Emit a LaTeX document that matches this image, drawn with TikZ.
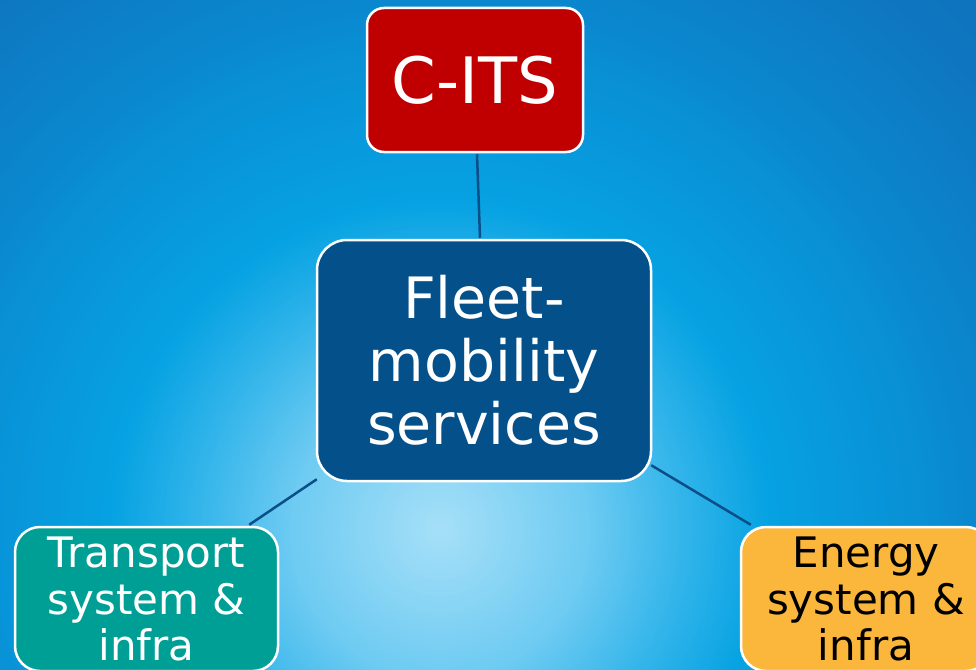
\documentclass[tikz,border=0pt]{standalone}
\usepackage{fontspec}
\setmainfont{DejaVu Sans}
\definecolor{sA}{HTML}{A6E0F8}
\definecolor{sB}{HTML}{94D9F6}
\definecolor{sC}{HTML}{6ECBF2}
\definecolor{sD}{HTML}{30B4EA}
\definecolor{sE}{HTML}{06A2E2}
\definecolor{sF}{HTML}{0990D5}
\definecolor{sG}{HTML}{0A88CF}
\definecolor{sH}{HTML}{0E76C0}
\definecolor{sI}{HTML}{0E6CB8}
\definecolor{citsred}{HTML}{C00000}
\definecolor{fleetblue}{HTML}{04508A}
\definecolor{teal}{HTML}{009F96}
\definecolor{orangebox}{HTML}{FBB73C}
\definecolor{connblue}{HTML}{0B4E88}
\tikzset{
  box/.style={draw=white, line width=2.5pt, align=center, inner sep=0pt},
  conn/.style={draw=connblue, line width=2.5pt},
}
\begin{document}
\begin{tikzpicture}[x=1pt,y=-1pt]
\useasboundingbox (0,0) rectangle (976,669);
\begin{scope}
\clip (0,0) rectangle (976,669);
\foreach \ro/\ri/\co/\ci in {900/700/sI/sH, 700/530/sH/sG, 530/480/sG/sF, 480/330/sF/sE,
    330/250/sE/sD, 250/150/sD/sC, 150/50/sC/sB, 50/0/sB/sA} {
  \pgfmathtruncatemacro\rb{\ro-3}
  \foreach \r in {\ro,\rb,...,\ri} {
    \pgfmathtruncatemacro\p{(\ro-\r)/(\ro-\ri)*100}
    \fill[fill={\ci!\p!\co}] (440,530) circle (\r);
  }
}
\end{scope}
\node[box, fill=citsred, text=white, rounded corners=17pt, minimum width=216pt, minimum height=144pt,
  font=\fontsize{64}{70}\selectfont] (cits) at (475,80) {C-ITS};
\node[box, fill=fleetblue, text=white, rounded corners=30pt, minimum width=334pt, minimum height=241pt,
  font=\fontsize{57}{63}\selectfont] (fleet) at (484,360.5) {Fleet-\\mobility\\services};
\node[box, fill=teal, text=white, rounded corners=25pt, minimum width=263pt, minimum height=144pt,
  font=\fontsize{42}{46.5}\selectfont] (trans) at (146.5,599) {Transport\\system \&\\infra};
\node[box, fill=orangebox, text=black, rounded corners=25pt, minimum width=250pt, minimum height=144pt,
  font=\fontsize{42}{46.5}\selectfont] (energy) at (866,599) {Energy\\system \&\\infra};
\draw[conn] ([xshift=2pt,yshift=-1pt]cits.south) -- ([xshift=-4pt,yshift=1pt]fleet.north);
\draw[conn] ([xshift=1pt,yshift=3pt]fleet.south west) -- ([xshift=-30pt,yshift=1pt]trans.north east);
\draw[conn] ([xshift=-1pt,yshift=17pt]fleet.south east) -- ([xshift=11pt,yshift=1pt]energy.north west);
\end{tikzpicture}
\end{document}
